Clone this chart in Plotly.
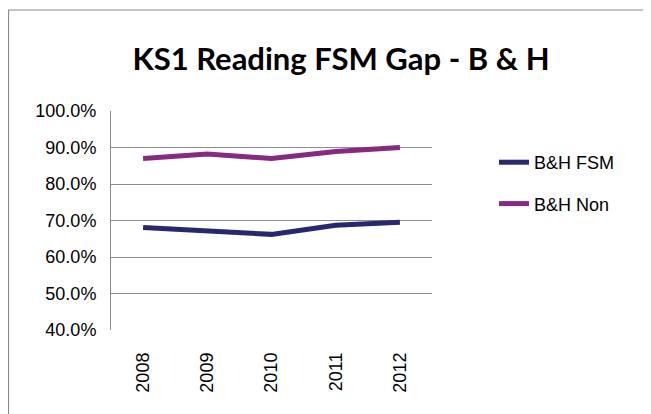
import plotly.graph_objects as go

years = ["2008", "2009", "2010", "2011", "2012"]
fsm = [0.681, 0.671, 0.662, 0.687, 0.695]
non = [0.870, 0.882, 0.870, 0.889, 0.900]
series_names = ["B&H FSM", "B&H Non"]
colors = ["#28286f", "#862a80"]

# page has an 8px body margin; figure coordinates are page minus 8
OFF = 8
W, H = 651 - OFF, 414 - OFF
L, T = 111 - OFF, 111 - OFF
R = W - (432 - OFF)
B = H - (330 - OFF)
pw, ph = W - L - R, H - T - B

fig = go.Figure()
for name, vals, c in zip(series_names, [fsm, non], colors):
    fig.add_trace(go.Scatter(x=years, y=vals, mode="lines", name=name, legendgroup=name,
                             line=dict(color=c, width=5)))

def px_x(p):
    return (p - OFF - L) / pw

def px_y(p):
    return (H - B - (p - OFF)) / ph

fig.add_shape(type="rect", xref="paper", yref="paper",
              x0=px_x(8.5), x1=px_x(700), y0=px_y(10), y1=px_y(470),
              line=dict(color="#8a8a8a", width=1.2), fillcolor="rgba(0,0,0,0)", layer="below")

fig.update_layout(
    width=W, height=H,
    margin=dict(l=L, r=R, t=T, b=B, autoexpand=False),
    paper_bgcolor="white", plot_bgcolor="white",
    title=dict(text="<b>KS1 Reading FSM Gap - B &amp; H</b>", xref="container", yref="container",
               x=(341 - OFF) / W, xanchor="center", y=1 - (59 - OFF) / H, yanchor="middle",
               font=dict(family="Lato", size=31, color="black")),
    legend=dict(x=px_x(494), xanchor="left", y=px_y(144), yanchor="top",
                font=dict(family="Liberation Sans", size=18, color="black"),
                tracegroupgap=15, itemwidth=30, bgcolor="rgba(0,0,0,0)"),
    showlegend=True,
)
fig.update_xaxes(type="category", range=[-0.5, 4.5], tickangle=-90, showgrid=False, showline=False,
                 ticks="", ticklabelstandoff=18,
                 tickfont=dict(family="Liberation Sans", size=18, color="black"))
fig.update_yaxes(range=[0.4, 1.0], dtick=0.1, tickformat=".1%", showgrid=True,
                 gridcolor="#8c8c8c", gridwidth=1, showline=True, linecolor="#8c8c8c",
                 linewidth=1, ticks="", ticklabelstandoff=10, zeroline=False,
                 tickfont=dict(family="Liberation Sans", size=18, color="black"))

fig.write_html("out.html")
